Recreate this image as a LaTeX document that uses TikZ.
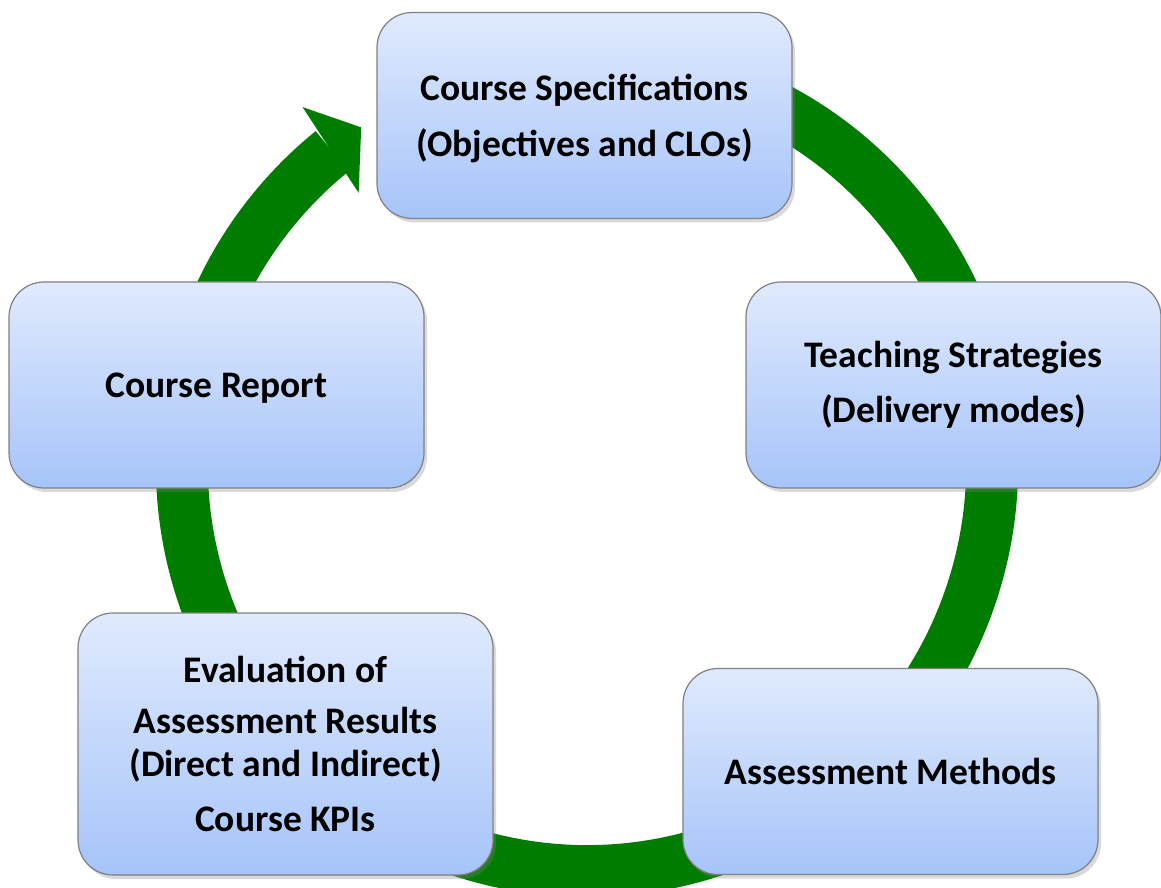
\documentclass[tikz,border=0pt]{standalone}
\usepackage{fontspec}
\setmainfont{Carlito}
\usepackage{tikz}
\usetikzlibrary{positioning,shadows}
\usepackage{xcolor}
\definecolor{ringgreen}{RGB}{0,125,0}
\definecolor{boxtop}{RGB}{224,234,253}
\definecolor{boxbot}{RGB}{166,196,249}
\definecolor{boxedge}{RGB}{128,128,128}

\begin{document}
\begin{tikzpicture}[x=1pt,y=1pt,
stage/.style={rectangle,rounded corners=35pt,draw=boxedge,line width=1.2pt,top color=boxtop,bottom color=boxbot,
 drop shadow={shadow xshift=3pt,shadow yshift=-4pt,opacity=0.3},
 inner sep=0pt,minimum width=415pt,minimum height=206pt,align=center,
 font=\fontsize{37.5}{45}\selectfont\bfseries},
ring/.style={draw=ringgreen,line width=52pt},
ringhead/.style={fill=ringgreen},
]
\useasboundingbox (0,0) rectangle (1161,887);
\coordinate (Ctr) at (587,421);

% cycle ring with its head
\draw [ring] ([shift={(70:405)}]Ctr) arc [start angle=70, end angle=-231, radius=405pt];
\fill [ringhead] ([shift={(129.9:356)}]Ctr) -- ([shift={(123.7:407)}]Ctr) -- ([shift={(128.4:458)}]Ctr) -- cycle;

\node [stage] (Spec) at (584.5,771.5) {\rule{0pt}{33pt}Course Specifications\\[11pt](Objectives and CLOs)};
\node [stage] (Teach) at (953.5,502) {Teaching Strategies\\[10pt](Delivery modes)};
\node [stage] (Assess) at (890.5,115.5) {Assessment Methods};
\node [stage,minimum height=262pt] (Eval) at (285.5,143) {Evaluation of\\[6pt]Assessment Results\\[-2pt](Direct and Indirect)\\[10pt]Course KPIs};
\node [stage,text height=32pt,text depth=6pt] (Report) at (216.5,502) {Course Report};

\end{tikzpicture}
\end{document}
